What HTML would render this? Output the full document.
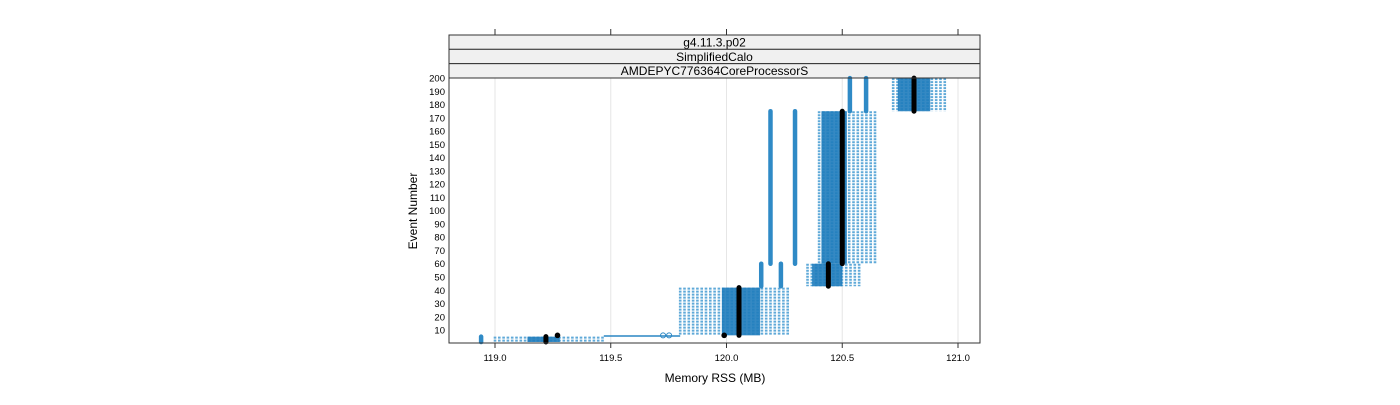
<!DOCTYPE html>
<html><head><meta charset="utf-8"><style>
body{margin:0;background:#fff;width:1400px;height:400px;overflow:hidden}
text{font-family:"Liberation Sans",sans-serif}
</style></head><body>
<svg id="chart" width="1400" height="400" xmlns="http://www.w3.org/2000/svg"></svg>
<script>
// data
const xTicks=[119.0,119.5,120.0,120.5,121.0];
const yTicks=[10,20,30,40,50,60,70,80,90,100,110,120,130,140,150,160,170,180,190,200];
const stripLabels=["g4.11.3.p02","SimplifiedCalo","AMDEPYC776364CoreProcessorS"];
// blocks: memory range, event range, dense core range, median memory
const blockXMin=[119.0,119.80,120.35,120.40,120.72];
const blockXMax=[119.47,120.28,120.59,120.645,120.96];
const blockEvStart=[1,6,43,60,175];
const blockEvEnd=[5,42,60,175,200];
const coreXMin=[119.14,119.98,120.37,120.41,120.74];
const coreXMax=[119.28,120.145,120.5,120.52,120.88];
const medianX=[119.22,120.054,120.44,120.5,120.81];
// isolated vertical runs
const runX=[118.94,120.15,120.235,120.19,120.296,120.533,120.603];
const runEvStart=[1,43,43,60,60,175,175];
const runEvEnd=[5,60,60,175,175,200,200];
// single points
const ptX=[119.27,119.726,119.752,119.99];
const ptEv=[6,6,6,6];
const ptBlack=[1,0,0,1];

const X0=449,X1=980,Y0=78,Y1=343;
const xs=v=>495+(v-119.0)*231.5;
const ys=e=>343.3-e*1.326;
const svg=document.getElementById('chart');
const NS='http://www.w3.org/2000/svg';
function mk(tag,attrs,name,parent){const e=document.createElementNS(NS,tag);for(const k in attrs)e.setAttribute(k,attrs[k]);


(parent||svg).appendChild(e);return e;}
// grid
xTicks.forEach(t=>{mk('line',{x1:xs(t),x2:xs(t),y1:Y0,y2:Y1,stroke:'#e6e6e6'},'x-gridline');});
// strips
stripLabels.forEach((s,i)=>{const y=35+i*14.33;
mk('rect',{x:X0,y:y,width:X1-X0,height:14.33,fill:'#f0f0f0',stroke:'#333','stroke-width':1},'strip-'+i);
const t=mk('text',{x:(X0+X1)/2,y:y+11.5,'text-anchor':'middle','font-size':12,fill:'#000'},'strip-label');t.textContent=s;});
// blocks
const g=mk('g',{},'series-memory');
blockXMin.forEach((a,i)=>{
  const y1=ys(blockEvEnd[i]),y2=ys(blockEvStart[i]);
  for(let x=xs(a);x<=xs(blockXMax[i]);x+=4.3){
    mk('line',{x1:x,x2:x,y1:y1,y2:y2,stroke:'#5fa9d8','stroke-width':2.6,'stroke-dasharray':'2 1'},'point-column',g);
  }
  mk('rect',{x:xs(coreXMin[i]),y:y1,width:xs(coreXMax[i])-xs(coreXMin[i]),height:y2-y1,fill:'#1f7cbc',opacity:0.9},'dense-core',g);
});
runX.forEach((v,i)=>{
  mk('line',{x1:xs(v),x2:xs(v),y1:ys(runEvEnd[i]),y2:ys(runEvStart[i]),stroke:'#2f8ac6','stroke-width':4.5,'stroke-linecap':'round'},'point-run',g);
});
mk('line',{x1:xs(119.47),x2:xs(119.8),y1:ys(5.5),y2:ys(5.5),stroke:'#2a86c3','stroke-width':1.5},'connector-line',g);
ptX.forEach((v,i)=>{
  if(ptBlack[i]) mk('circle',{cx:xs(v),cy:ys(ptEv[i]),r:2.8,fill:'#000'},'median-point',g);
  else mk('circle',{cx:xs(v),cy:ys(ptEv[i]),r:2.5,fill:'none',stroke:'#2a86c3'},'point',g);
});
medianX.forEach((v,i)=>{
  mk('line',{x1:xs(v),x2:xs(v),y1:ys(blockEvEnd[i]),y2:ys(blockEvStart[i]),stroke:'#000','stroke-width':5,'stroke-linecap':'round'},'median-line',g);
});
// frame
mk('rect',{x:X0,y:Y0,width:X1-X0,height:Y1-Y0,fill:'none',stroke:'#333'},'plot-frame');
xTicks.forEach(t=>{
  mk('line',{x1:xs(t),x2:xs(t),y1:Y1,y2:Y1+5,stroke:'#333'},'x-tick');
  mk('line',{x1:xs(t),x2:xs(t),y1:29,y2:35,stroke:'#333'},'x-tick-top');
  const l=mk('text',{x:xs(t),y:361,'text-anchor':'middle','font-size':9.5},'x-tick-label');l.textContent=t.toFixed(1);
});
yTicks.forEach(t=>{const l=mk('text',{x:445,y:ys(t)+3.5,'text-anchor':'end','font-size':9.5},'y-tick-label');l.textContent=t;});
const xt=mk('text',{x:715,y:382,'text-anchor':'middle','font-size':12},'x-axis-title');xt.textContent='Memory RSS (MB)';
const yt=mk('text',{x:0,y:0,'text-anchor':'middle','font-size':12,transform:'translate(417,211) rotate(-90)'},'y-axis-title');yt.textContent='Event Number';
</script>
</body></html>
